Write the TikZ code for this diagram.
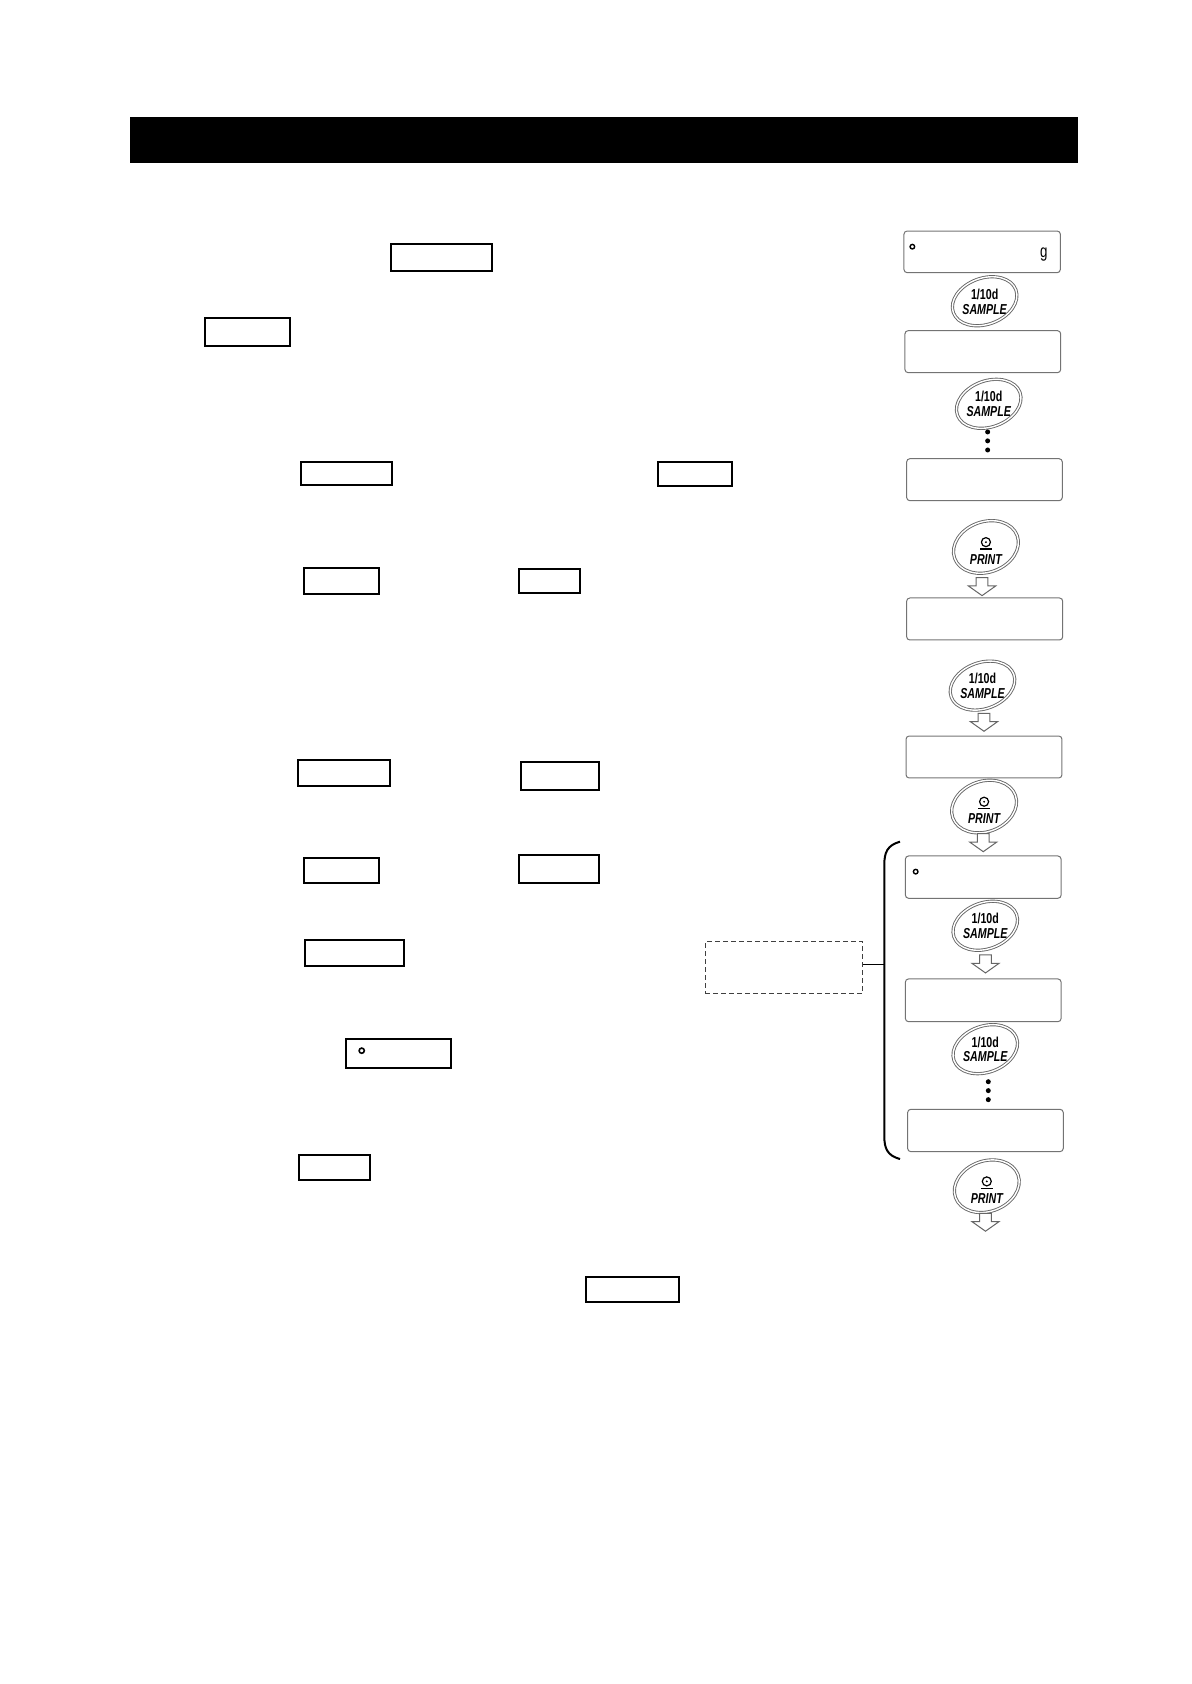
\documentclass[tikz,border=0pt]{standalone}
\usepackage{fontspec}
\newfontfamily\keyfont[FakeStretch=0.74]{Liberation Sans}
\usetikzlibrary{fit}

\tikzset{
  samplekey/.pic={
    \draw[keyrim, rotate=20] (0,0) ellipse [x radius=31, y radius=21.5];
    \node[keylabel] (-top) at (0,-6.5) {1/10d};
    \node[keyname] (-name) at (0,7.3) {SAMPLE};
  },
  printkey/.pic={
    \draw[keyrim, rotate=20] (0,0) ellipse [x radius=31, y radius=23.5];
    \draw[line width=0.6pt] (0,-4.5) circle [radius=4.2];
    \fill (0,-4.5) circle [radius=1];
    \draw[line width=0.6pt] (-5.5,1.8) -- (5.5,1.8);
    \node[keyname] (-name) at (0,11.5) {PRINT};
  },
  hollowdown/.pic={
    \draw[flow] (-5.5,0) -- (5.5,0) -- (5.5,7.7) -- (12.7,7.7) -- (0,16.7)
      -- (-12.7,7.7) -- (-5.5,7.7) -- cycle;
  },
}

\begin{document}
\begin{tikzpicture}[
  x=0.537pt, y=-0.537pt,
  titlebar/.style={rectangle, fill=black, inner sep=0pt},
  keybox/.style={rectangle, draw, line width=1pt, inner sep=0pt},
  lcd/.style={rectangle, draw=black!55, line width=0.5pt, rounded corners=1.6pt, inner sep=0pt},
  note/.style={rectangle, draw=black!75, dash pattern=on 2.5pt off 1.5pt, line width=0.5pt, inner sep=0pt},
  keyrim/.style={draw=black!60, line width=0.45pt, double=white, double distance=0.7pt},
  keylabel/.style={inner sep=0pt, font=\keyfont\fontsize{7.2}{8}\selectfont\bfseries},
  keyname/.style={inner sep=0pt, font=\keyfont\fontsize{7.2}{8}\selectfont\bfseries\itshape},
  dot/.style={circle, fill, inner sep=0pt, minimum size=2.5pt},
  stabmark/.style={circle, draw, line width=0.7pt, inner sep=0pt, minimum size=2.3pt},
  flow/.style={draw=black!60, line width=0.5pt, fill=white},
  bracket/.style={line width=1pt},
]
  \useasboundingbox (0,0) rectangle (1109,1568);

  % heading bar
  \node[titlebar, fit={(121,109) (1004,152)}] (title) {};

  % key boxes in the text column
  \node[keybox, fit={(364,227.5) (458,252)}] (box1) {};
  \node[keybox, fit={(191,296.5) (270,322.5)}] (box2) {};
  \node[keybox, fit={(280,430.5) (365,452)}] (box3) {};
  \node[keybox, fit={(613,430.5) (682,452.5)}] (box4) {};
  \node[keybox, fit={(283.3,529.2) (353.2,553.4)}] (box5) {};
  \node[keybox, fit={(483.5,530) (540.3,552.4)}] (box6) {};
  \node[keybox, fit={(277.8,708) (363.4,732)}] (box7) {};
  \node[keybox, fit={(485.4,709.8) (557.4,735.9)}] (box8) {};
  \node[keybox, fit={(283.3,799.2) (353.2,822.5)}] (box9) {};
  \node[keybox, fit={(483.5,796.4) (557.4,822.5)}] (box10) {};
  \node[keybox, fit={(284.3,875.5) (375.9,899.8)}] (box11) {};
  \node[keybox, fit={(322.5,967.7) (420.2,994.7)}] (box12) {};
  \node[stabmark, line width=0.8pt, minimum size=2.6pt] (box12mark) at (336.8,978.3) {};
  \node[keybox, fit={(278.7,1075.7) (344.8,1099)}] (box13) {};
  \node[keybox, fit={(545.9,1189.3) (631.9,1212.6)}] (box14) {};

  % display column
  \node[lcd, fit={(841.7,215.1) (987.3,253.9)}] (lcd1) {};
  \node[stabmark] (lcd1mark) at (849.5,229.7) {};
  \node[inner sep=0pt, font=\keyfont\fontsize{9}{10}\selectfont] (lcd1unit) at (972,237.4) {g};
  \pic (key1) at (916.8,280.5) {samplekey};
  \node[lcd, fit={(842.6,307.9) (987.6,347)}] (lcd2) {};
  \pic (key2) at (920.6,376) {samplekey};
  \node[dot] (dotsa1) at (919.6,402.2) {};
  \node[dot] (dotsa2) at (919.6,410.5) {};
  \node[dot] (dotsa3) at (919.6,419) {};
  \node[lcd, fit={(844.2,427.1) (989.1,466.2)}] (lcd3) {};
  \pic (key3) at (918,509.3) {printkey};
  \pic (flow1) at (914.4,537.9) {hollowdown};
  \node[lcd, fit={(844.2,556.8) (989.5,595.9)}] (lcd4) {};
  \pic (key4) at (914.8,638.4) {samplekey};
  \pic (flow2) at (916.2,664.2) {hollowdown};
  \node[lcd, fit={(843.6,685.3) (988.8,724.4)}] (lcd5) {};
  \pic (key5) at (916.3,751) {printkey};
  \pic (flow3) at (915.5,776.3) {hollowdown};
  \node[lcd, fit={(843,797) (988,836.4)}] (lcd6) {};
  \node[stabmark] (lcd6mark) at (852.6,811.6) {};
  \pic (key6) at (917.4,862) {samplekey};
  \pic (flow4) at (917.6,889.2) {hollowdown};
  \node[lcd, fit={(843,911.5) (988,951.3)}] (lcd7) {};
  \pic (key7) at (917.4,976.9) {samplekey};
  \node[dot] (dotsb1) at (920.2,1007.2) {};
  \node[dot] (dotsb2) at (920.2,1015.5) {};
  \node[dot] (dotsb3) at (920.2,1023.9) {};
  \node[lcd, fit={(845.1,1032.9) (990,1072.3)}] (lcd8) {};
  \pic (key8) at (918.8,1104.5) {printkey};
  \pic (flow5) at (917.6,1129.7) {hollowdown};

  % bracket round the repeated steps, with its note
  \coordinate (bracetop) at (838,783.7);
  \coordinate (bracemid) at (823.4,897.9);
  \coordinate (bracebot) at (838,1079.2);
  \draw[bracket] (bracetop) .. controls (826,787) and (823.4,794) .. (823.4,805)
    -- (823.4,1058) .. controls (823.4,1069) and (826,1076) .. (bracebot);
  \node[note, fit={(656.7,876.8) (803.2,925)}] (note) {};
  \draw[line width=0.6pt] (note.east |- bracemid) -- (bracemid);
\end{tikzpicture}
\end{document}
